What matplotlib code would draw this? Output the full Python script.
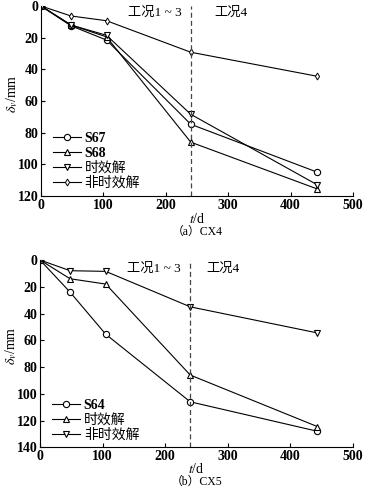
import matplotlib
matplotlib.use("Agg")
import matplotlib.pyplot as plt

# Data ########################################################################
t_days = [0, 48, 105, 240, 443]

# (a) CX4
cx4_s67 = [0, 12.5, 21.5, 74.7, 105]
cx4_s68 = [0, 12, 19.5, 86, 115.6]
cx4_time = [0, 12, 18.5, 68.4, 113]
cx4_notime = [0, 6.3, 9.3, 29.2, 44.4]

# (b) CX5
cx5_s64 = [0, 24, 55.5, 106, 128]
cx5_time = [0, 14, 18, 86, 124.5]
cx5_notime = [0, 8, 8.5, 35, 54.5]

stage_t = 240
x_ticks = [0, 100, 200, 300, 400, 500]

plt.rcParams['font.family'] = ['Liberation Serif', 'Noto Sans CJK SC']
plt.rcParams['mathtext.fontset'] = 'stix'
plt.rcParams['font.size'] = 9

W, H = 369, 493
fig = plt.figure(figsize=(W / 100, H / 100), dpi=100)


def px_axes(left, top, right, bottom):
    return fig.add_axes([left / W, 1 - bottom / H, (right - left) / W, (bottom - top) / H])


def style(ax, ymax, step, hpx, xlab_px):
    ax.set_xlim(0, 500)
    ax.set_ylim(ymax, 0)
    y_ticks = list(range(0, ymax + 1, step))
    ax.set_xticks(x_ticks, labels=[str(v) for v in x_ticks],
                  fontweight='bold', fontsize=10)
    ax.set_yticks(y_ticks, labels=[str(v) for v in y_ticks],
                  fontweight='bold', fontsize=10)
    for s in ['top', 'right']:
        ax.spines[s].set_visible(False)
    for s in ['left', 'bottom']:
        ax.spines[s].set_linewidth(0.8)
    ax.tick_params(direction='in', length=3, width=0.8, pad=2)
    ax.axvline(stage_t, color='#444444', ls='--', lw=0.9, dashes=(4, 2.5))
    ax.set_ylabel(r'$\delta_v$/mm', fontsize=10, va='center')
    ax.yaxis.set_label_coords(-29 / 312, 0.54)
    ax.set_xlabel(r'$t$/d', fontsize=10, va='center')
    ax.xaxis.set_label_coords(0.5, -xlab_px / hpx)


def legend(ax, y):
    leg = ax.legend(bbox_to_anchor=(0.02, y), loc='upper left', frameon=False,
                    handlelength=2.0, handletextpad=0.3, labelspacing=0.12,
                    borderaxespad=0, prop={'size': 10})
    for tx in leg.get_texts():
        if tx.get_text().isascii():
            tx.set_fontweight('bold')


mk = dict(color='black', lw=0.8, mfc='white', mec='black', ms=4.5, mew=0.8)

# (a) CX4 #####################################################################
ax1 = px_axes(41, 6, 353, 196)
ax1.plot(t_days, cx4_s67, marker='o', label='S67', **mk)
ax1.plot(t_days, cx4_s68, marker='^', label='S68', **mk)
ax1.plot(t_days, cx4_time, marker='v', label='时效解', **mk)
ax1.plot(t_days, cx4_notime, marker='d', label='非时效解', ms=3.5, color='black',
         lw=0.8, mfc='white', mec='black', mew=0.7)
style(ax1, 120, 20, 190, 23)
ax1.text(182, 4.4, '工况1 ~ 3', ha='center', va='center', fontsize=9.5)
ax1.text(305, 4.4, '工况4', ha='center', va='center', fontsize=9.5)
legend(ax1, 0.366)
ax1.text(0.5, -36 / 190, '（a）CX4', transform=ax1.transAxes, ha='center',
         va='center', fontsize=8.5)

# (b) CX5 #####################################################################
ax2 = px_axes(40, 260, 353, 447.3)
ax2.plot(t_days, cx5_s64, marker='o', label='S64', **mk)
ax2.plot(t_days, cx5_time, marker='^', label='时效解', **mk)
ax2.plot(t_days, cx5_notime, marker='v', label='非时效解', **mk)
style(ax2, 140, 20, 187.3, 22)
ax2.text(182, 6.7, '工况1 ~ 3', ha='center', va='center', fontsize=9.5)
ax2.text(292, 6.7, '工况4', ha='center', va='center', fontsize=9.5)
legend(ax2, 0.287)
ax2.text(0.5, -34.5 / 187.3, '（b）CX5', transform=ax2.transAxes, ha='center',
         va='center', fontsize=8.5)

fig.savefig('out.png', dpi=100)
plt.close()
